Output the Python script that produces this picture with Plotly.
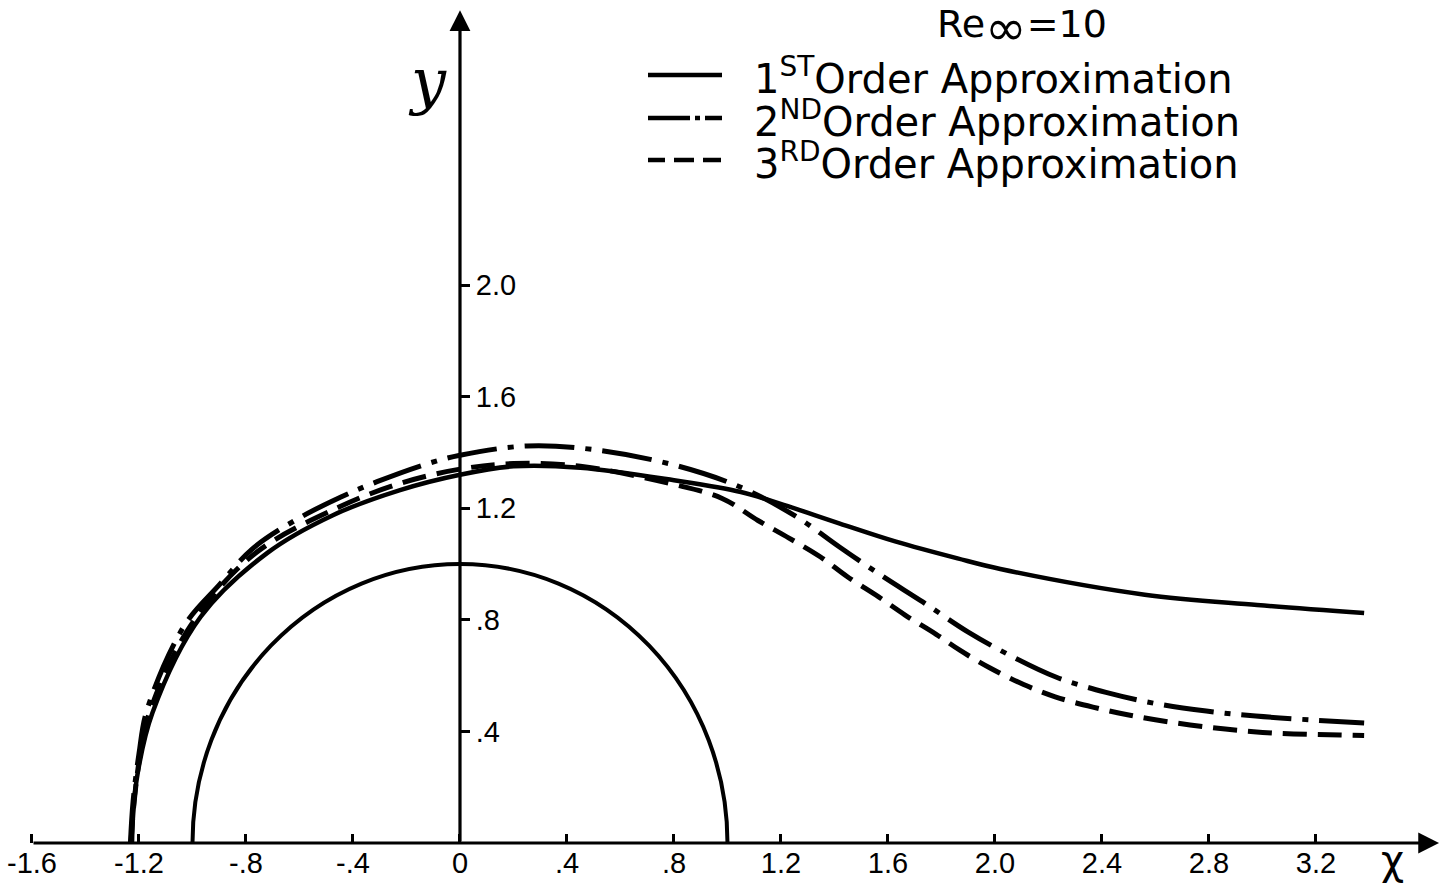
import plotly.graph_objects as go

# ---------------- data ----------------
x_first = [-1.226, -1.222, -1.205, -1.15, -0.97, -0.72, -0.475, -0.224, 0.0, 0.2, 0.45,
           0.8, 1.05, 1.21, 1.42, 1.63, 1.86, 2.02, 2.56, 2.98, 3.38]
y_first = [0.0, 0.10, 0.25, 0.466, 0.81, 1.04, 1.175, 1.265, 1.32, 1.35, 1.345,
           1.30, 1.258, 1.212, 1.145, 1.08, 1.02, 0.982, 0.89, 0.853, 0.824]

x_second = [-1.232, -1.222, -1.20, -1.17, -1.03, -0.90, -0.775, -0.61, -0.445, -0.31, -0.12,
            0.0, 0.25, 0.5, 0.80, 1.05, 1.26, 1.42, 1.58, 1.73, 1.90, 2.065, 2.23, 2.415,
            2.60, 2.79, 2.975, 3.2, 3.38]
y_second = [0.0, 0.15, 0.32, 0.477, 0.78, 0.925, 1.055, 1.16, 1.24, 1.295, 1.36,
            1.39, 1.423, 1.41, 1.355, 1.275, 1.168, 1.06, 0.956, 0.864, 0.756, 0.668, 0.594, 0.54,
            0.50, 0.473, 0.455, 0.44, 0.43]

x_third = [-1.23, -1.218, -1.195, -1.16, -1.01, -0.77, -0.45, -0.22, 0.0, 0.2, 0.45,
           0.8, 0.98, 1.114, 1.23, 1.348, 1.447, 1.565, 1.664, 1.78, 1.87, 1.98, 2.107,
           2.225, 2.366, 2.5, 2.65, 2.815, 2.967, 3.116, 3.29, 3.38]
y_third = [0.0, 0.15, 0.32, 0.47, 0.775, 1.035, 1.205, 1.29, 1.34, 1.36, 1.35,
           1.285, 1.235, 1.156, 1.093, 1.025, 0.955, 0.882, 0.817, 0.748, 0.69, 0.628, 0.568,
           0.524, 0.487, 0.459, 0.434, 0.413, 0.399, 0.391, 0.387, 0.385]

body_radius = 1.0

x_tick_vals = [-1.6, -1.2, -0.8, -0.4, 0.0, 0.4, 0.8, 1.2, 1.6, 2.0, 2.4, 2.8, 3.2]
x_tick_text = ["-1.6", "-1.2", "-.8", "-.4", "0", ".4", ".8", "1.2", "1.6", "2.0", "2.4", "2.8", "3.2"]
y_tick_vals = [0.4, 0.8, 1.2, 1.6, 2.0]
y_tick_text = [".4", ".8", "1.2", "1.6", "2.0"]

series_names = ["1<sup>ST</sup>Order Approximation",
                "2<sup>ND</sup>Order Approximation",
                "3<sup>RD</sup>Order Approximation"]

# ---------------- figure ----------------
W, H = 1440, 888
B = 45
x_range = [-1.7196, 3.6636]
y_range = [0.0, 3.0215]
x_axis_end = 3.66
y_axis_end = 2.985

BLACK = "#000000"
tick_font = dict(family="Liberation Sans", size=29, color=BLACK)
text_font = "DejaVu Sans"

fig = go.Figure()

fig.add_trace(go.Scatter(x=x_first, y=y_first, mode="lines", name="1st Order Approximation",
                         line=dict(color=BLACK, width=4.5, shape="spline", smoothing=1.0),
                         showlegend=False))
fig.add_trace(go.Scatter(x=x_second, y=y_second, mode="lines", name="2nd Order Approximation",
                         line=dict(color=BLACK, width=5, shape="spline", smoothing=1.0,
                                   dash="50px,11px,6px,11px"),
                         showlegend=False))
fig.add_trace(go.Scatter(x=x_third, y=y_third, mode="lines", name="3rd Order Approximation",
                         line=dict(color=BLACK, width=5, shape="spline", smoothing=1.0,
                                   dash="24px,11px"),
                         showlegend=False))

shapes = [
    # body (circle of radius body_radius, lower half clipped by the axis)
    dict(type="circle", xref="x", yref="y", x0=-body_radius, x1=body_radius,
         y0=-body_radius, y1=body_radius, line=dict(color=BLACK, width=4)),
]


def py(p):
    return (H - B - p) / (H - B)


# manual legend samples
leg_x0, leg_x1 = 648 / W, 722 / W
leg_rows = [75, 118, 160]
leg_dash = ["solid", "42px,5px,5px,5px,17px", "17px,9px,20px,9px,18px"]
for row, dsh in zip(leg_rows, leg_dash):
    shapes.append(dict(type="line", xref="paper", yref="paper", x0=leg_x0, x1=leg_x1,
                       y0=py(row), y1=py(row), line=dict(color=BLACK, width=4.5, dash=dsh)))

annotations = [
    # x axis with arrow
    dict(x=x_axis_end, y=0, ax=-1.6, ay=0, xref="x", yref="y", axref="x", ayref="y",
         text="", showarrow=True, arrowhead=2, arrowsize=1.3, arrowwidth=3.2, arrowcolor=BLACK,
         standoff=0, startstandoff=0),
    # y axis with arrow
    dict(x=0, y=y_axis_end, ax=0, ay=0, xref="x", yref="y", axref="x", ayref="y",
         text="", showarrow=True, arrowhead=2, arrowsize=1.3, arrowwidth=3.2, arrowcolor=BLACK,
         standoff=0, startstandoff=0),
    # axis labels
    dict(x=427 / W, y=py(80), xref="paper", yref="paper", text="<i>y</i>", showarrow=False,
         font=dict(family="DejaVu Serif", size=62, color=BLACK), xanchor="center", yanchor="middle"),
    dict(x=1392 / W, y=py(860), xref="paper", yref="paper", text="χ", showarrow=False,
         font=dict(family="DejaVu Sans", size=40, color=BLACK), xanchor="center", yanchor="middle"),
    # title
    dict(x=1022 / W, y=py(28), xref="paper", yref="paper",
         text="Re<sub><span style='font-size:50px'>∞</span></sub>=10", showarrow=False,
         font=dict(family=text_font, size=38, color=BLACK), xanchor="center", yanchor="middle"),
]
for row, name in zip(leg_rows, series_names):
    annotations.append(dict(x=752 / W, y=py(row + 1), xref="paper", yref="paper", text=name,
                            showarrow=False, xanchor="left", yanchor="middle",
                            font=dict(family=text_font, size=40, color=BLACK)))

fig.update_layout(
    width=W, height=H,
    margin=dict(l=0, r=0, t=0, b=B, pad=0),
    paper_bgcolor="white", plot_bgcolor="white",
    showlegend=False,
    shapes=shapes,
    annotations=annotations,
    xaxis=dict(range=x_range, showgrid=False, zeroline=False, showline=False,
               tickmode="array", tickvals=x_tick_vals, ticktext=x_tick_text,
               ticks="inside", ticklen=9, tickwidth=2.5, tickcolor=BLACK,
               tickfont=tick_font, fixedrange=True),
    yaxis=dict(range=y_range, showgrid=False, zeroline=False, showline=False,
               anchor="free", position=460 / W, side="right",
               tickmode="array", tickvals=y_tick_vals, ticktext=y_tick_text,
               ticks="outside", ticklen=9, tickwidth=2.5, tickcolor=BLACK,
               tickfont=tick_font, fixedrange=True),
)

fig.write_html("out.html")
